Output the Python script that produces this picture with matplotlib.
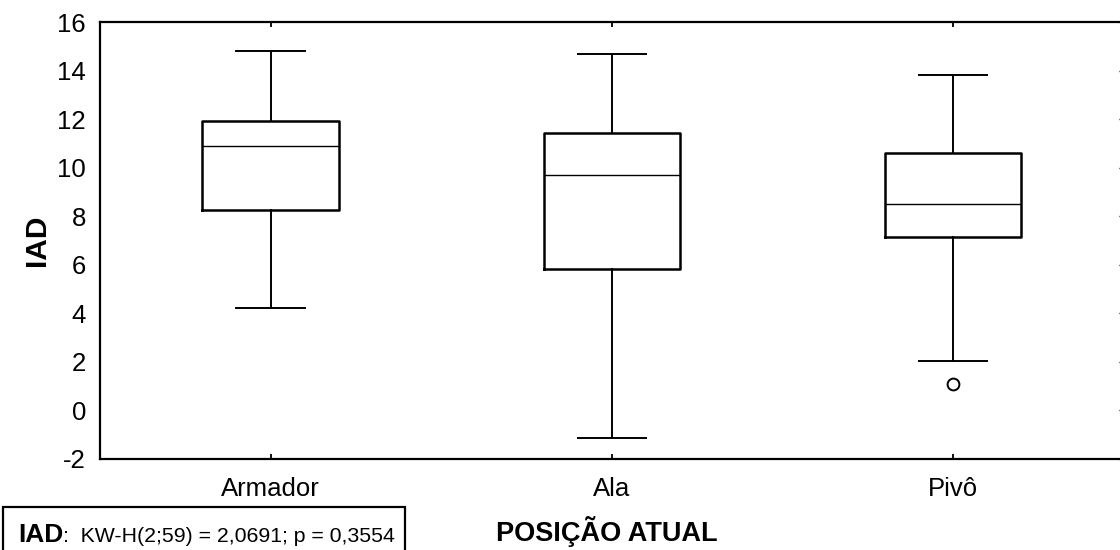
import matplotlib
matplotlib.use("Agg")
import matplotlib.pyplot as plt
from matplotlib.patches import Rectangle

plt.rcParams['font.family'] = ['Liberation Sans', 'DejaVu Sans']

# IAD by current playing position
positions = ["Armador", "Ala", "Pivô"]
q1 = [8.26, 5.83, 7.15]
median = [10.89, 9.70, 8.50]
q3 = [11.94, 11.43, 10.60]
whisker_low = [4.21, -1.15, 2.04]
whisker_high = [14.82, 14.68, 13.82]
outliers = [[], [], [1.08]]

y_ticks = [-2, 0, 2, 4, 6, 8, 10, 12, 14, 16]
stat_text = "KW-H(2;59) = 2,0691; p = 0,3554"

W, H = 1120, 550
fig = plt.figure(figsize=(W / 100, H / 100), dpi=100)
left_px, right_px, top_px, bottom_px = 100, 1123.5, 22, 459
ax = fig.add_axes([left_px / W, 1 - bottom_px / H,
                   (right_px - left_px) / W, (bottom_px - top_px) / H])

stats = []
for i, name in enumerate(positions):
    stats.append(dict(label=name, q1=q1[i], med=median[i], q3=q3[i],
                      whislo=whisker_low[i], whishi=whisker_high[i],
                      fliers=outliers[i]))

ax.bxp(stats, positions=[1, 2, 3], widths=0.4, showfliers=True,
       boxprops=dict(color='black', linewidth=1.8),
       medianprops=dict(color='black', linewidth=1.0),
       whiskerprops=dict(color='black', linewidth=1.4),
       capprops=dict(color='black', linewidth=1.4),
       capwidths=0.2,
       flierprops=dict(marker='o', markerfacecolor='none',
                       markeredgecolor='black', markersize=8.5,
                       markeredgewidth=1.4))

ax.set_xlim(0.5, 3.5)
ax.set_ylim(-2, 16)
ax.set_yticks(y_ticks)
ax.set_yticklabels([str(t) for t in y_ticks])

for s in ax.spines.values():
    s.set_linewidth(1.6)

ax.tick_params(axis='y', which='both', left=False, right=True,
               labelleft=True, labelright=False, direction='in',
               length=3.6, width=1.0, labelsize=18.5, pad=10)
ax.tick_params(axis='x', which='both', bottom=True, top=True,
               direction='in', length=3.6, width=1.3, labelsize=18.5, pad=13)

ax.set_ylabel("IAD", fontsize=21.5, fontweight='bold')
ax.yaxis.set_label_coords(-0.048, 0.5)
ax.set_xlabel("POSIÇÃO ATUAL", fontsize=19.5, fontweight='bold')
ax.xaxis.set_label_coords(0.4954, -0.13)

# statistics box in the lower left corner
fig.add_artist(Rectangle((3 / W, -10 / H), 402 / W, (550 - 507 + 10) / H,
                         transform=fig.transFigure, fill=False,
                         edgecolor='black', linewidth=1.6, clip_on=False))
t1 = fig.text(18 / W, 1 - 542 / H, "IAD", fontsize=19, fontweight='bold',
              ha='left', va='baseline')
fig.canvas.draw()
ax.annotate(":  " + stat_text, xy=(1, 0), xycoords=t1, xytext=(0, 1),
            textcoords='offset points', fontsize=15.3, ha='left',
            va='bottom', annotation_clip=False)

fig.savefig("out.png", dpi=100)
